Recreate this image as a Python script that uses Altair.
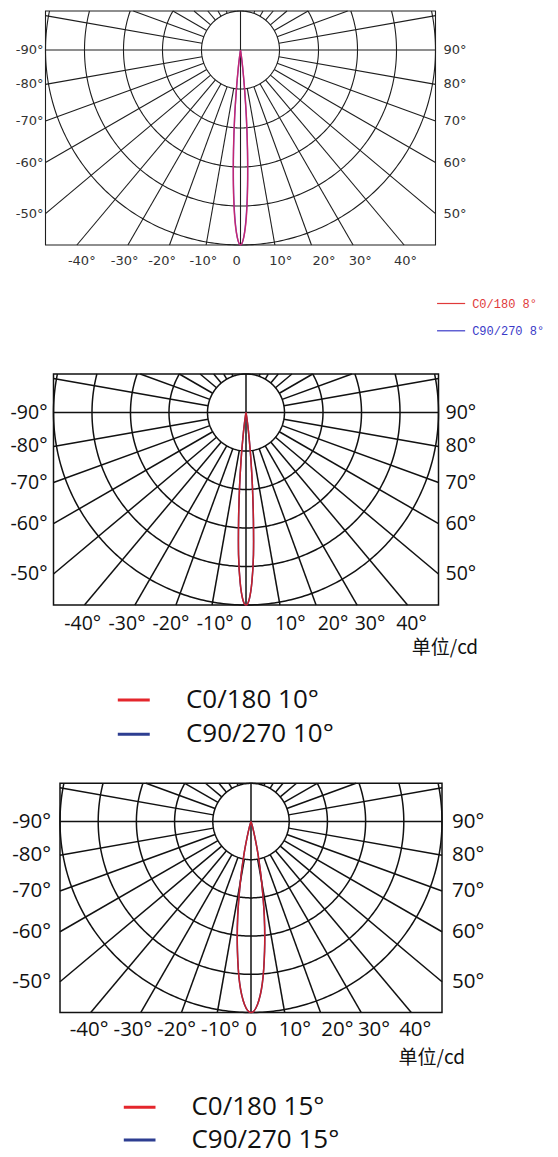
import numpy as np
import pandas as pd
import altair as alt

# ---------------- values ----------------
left_angles = [-90, -80, -70, -60, -50]
right_angles = [90, 80, 70, 60, 50]
bottom_angles = [-40, -30, -20, -10, 0, 10, 20, 30, 40]
# where the bottom tick labels sit (in ring units from the centre)
bottom_pos_small = [-4.07, -2.97, -2.01, -0.95, -0.10, 1.03, 2.14, 3.07, 4.23]
bottom_pos_large = [-4.24, -3.09, -1.95, -0.80, 0.0, 1.15, 2.26, 3.22, 4.30]

# relative intensity vs angle from the beam axis (deg)
beam8_theta = [0, 1, 2, 3, 4, 5, 6, 7, 8, 9]
beam8_c0 = [1.0, 0.96, 0.86, 0.70, 0.52, 0.35, 0.20, 0.10, 0.04, 0.0]
beam8_c90 = [1.0, 0.96, 0.85, 0.69, 0.51, 0.34, 0.19, 0.09, 0.03, 0.0]

beam10_theta = [0, 1, 2, 3, 4, 5, 6, 7, 8, 9, 10]
beam10_c0 = [1.0, 0.97, 0.88, 0.74, 0.55, 0.38, 0.24, 0.13, 0.06, 0.02, 0.0]
beam10_c90 = [1.0, 0.97, 0.88, 0.74, 0.55, 0.38, 0.24, 0.13, 0.06, 0.02, 0.0]

beam15_theta = [0, 2, 4, 6, 8, 10, 12, 14, 16, 18]
beam15_c0 = [1.0, 0.96, 0.85, 0.68, 0.50, 0.32, 0.18, 0.08, 0.03, 0.0]
beam15_c90 = [1.0, 0.96, 0.85, 0.68, 0.50, 0.32, 0.18, 0.08, 0.03, 0.0]

legend8 = ["C0/180 8°", "C90/270 8°"]
legend10 = ["C0/180 10°", "C90/270 10°"]
legend15 = ["C0/180 15°", "C90/270 15°"]
unit_label = "单位/cd"

RINGS = 5      # rings drawn below the centre
TOP = 1.0      # box extends one ring above the centre
SPOKE_STEP = 10

# ---------------- geometry helpers ----------------
def grid_df():
    rows = []
    g = 0
    for r in range(1, RINGS + 1):
        if r <= TOP:
            phis = np.linspace(0, 360, 181)
        else:
            pm = np.degrees(np.arccos(-TOP / r))
            phis = np.linspace(-pm, pm, 241)
        for i, p in enumerate(phis):
            rows.append(dict(g=g, i=i, x=r * np.sin(np.radians(p)), y=-r * np.cos(np.radians(p))))
        g += 1
    for (a, b) in [((-RINGS, 0), (RINGS, 0)), ((0, -RINGS), (0, TOP))]:
        rows.append(dict(g=g, i=0, x=a[0], y=a[1]))
        rows.append(dict(g=g, i=1, x=b[0], y=b[1]))
        g += 1
    for a in range(SPOKE_STEP, 180, SPOKE_STEP):
        if a == 90:
            continue
        for s in (-1, 1):
            ph = np.radians(a)
            dx, dy = s * np.sin(ph), -np.cos(ph)
            tx = RINGS / abs(dx)
            ty = RINGS / (-dy) if dy < 0 else TOP / dy
            t = min(tx, ty)
            rows.append(dict(g=g, i=0, x=dx, y=dy))
            rows.append(dict(g=g, i=1, x=dx * t, y=dy * t))
            g += 1
    return pd.DataFrame(rows)


def beam_df(theta, inten):
    th = np.array(theta, float)
    I = np.array(inten, float)
    th_full = np.concatenate([-th[::-1], th[1:]])
    I_full = np.concatenate([I[::-1], I[1:]])
    r = RINGS * I_full
    return pd.DataFrame(dict(i=np.arange(len(r)),
                             x=r * np.sin(np.radians(th_full)),
                             y=-r * np.cos(np.radians(th_full))))


def side_y(a):
    a = abs(a)
    return -RINGS * np.cos(np.radians(a)) / np.sin(np.radians(a))


GRID = grid_df()
PAGE_L, PAGE_R = 8, 550
W = PAGE_R - PAGE_L


def panel(p):
    u, cx, cy, top, h = p["u"], p["cx"], p["cy"], p["top"], p["h"]
    xs = alt.Scale(domain=[(PAGE_L - cx) / u, (PAGE_R - cx) / u], nice=False, zero=False)
    ys = alt.Scale(domain=[(cy - top - h) / u, (cy - top) / u], nice=False, zero=False)

    def X(f="x"):
        return alt.X(f, type="quantitative", scale=xs, axis=None)

    def Y(f="y"):
        return alt.Y(f, type="quantitative", scale=ys, axis=None)

    layers = []
    layers.append(alt.Chart(GRID).mark_line(color=p["grid"], strokeWidth=p["gw"]).encode(
        x=X(), y=Y(), detail="g:N", order="i:Q"))
    box = pd.DataFrame(dict(x=[-RINGS], x2=[RINGS], y=[-RINGS], y2=[TOP]))
    layers.append(alt.Chart(box).mark_rect(fillOpacity=0, stroke=p["grid"], strokeWidth=p["gw"]).encode(
        x=X(), x2="x2", y=Y(), y2="y2"))
    layers.append(alt.Chart(beam_df(p["theta"], p["c90"])).mark_line(
        color=p["blue"], strokeWidth=p["cw"], interpolate="cardinal").encode(x=X(), y=Y(), order="i:Q"))
    layers.append(alt.Chart(beam_df(p["theta"], p["c0"])).mark_line(
        color=p["red"], strokeWidth=p["cw"], opacity=p["ropa"], interpolate="cardinal").encode(
        x=X(), y=Y(), order="i:Q"))

    tstyle = dict(font=p["font"], fontSize=p["fs"], color=p["tc"], fontWeight=p["fw"])
    ldf = pd.DataFrame(dict(x=[-RINGS] * 5, y=[side_y(a) for a in left_angles],
                            t=[f"{a}°" for a in left_angles]))
    layers.append(alt.Chart(ldf).mark_text(align="right", baseline="middle", dx=p["ldx"], **tstyle).encode(
        x=X(), y=Y(), text="t:N"))
    rdf = pd.DataFrame(dict(x=[RINGS] * 5, y=[side_y(a) for a in right_angles],
                            t=[f"{a}°" for a in right_angles]))
    layers.append(alt.Chart(rdf).mark_text(align="left", baseline="middle", dx=p["rdx"], **tstyle).encode(
        x=X(), y=Y(), text="t:N"))
    bdf = pd.DataFrame(dict(x=p["bpos"], y=[-RINGS] * len(bottom_angles),
                            t=[("0" if a == 0 else f"{a}°") for a in bottom_angles]))
    layers.append(alt.Chart(bdf).mark_text(align="center", baseline="middle", dy=p["bdy"], **tstyle).encode(
        x=X(), y=Y(), text="t:N"))

    if p.get("unit") is not None:
        udf = pd.DataFrame(dict(x=[p["unit"][0]], y=[p["unit"][1]], t=[unit_label]))
        layers.append(alt.Chart(udf).mark_text(align="right", baseline="middle", font="Noto Sans CJK SC",
                                               fontSize=p["ufs"], color=p["tc"]).encode(
            x=X(), y=Y(), text="t:N"))

    lg = p["leg"]
    legl = pd.DataFrame(dict(x=[lg["x0"]] * 2, x2=[lg["x1"]] * 2, y=lg["ys"], c=[p["lred"], p["lblue"]]))
    layers.append(alt.Chart(legl).mark_rule(strokeWidth=lg["lw"]).encode(
        x=X(), x2="x2", y=Y(), color=alt.Color("c:N", scale=None)))
    legt = pd.DataFrame(dict(x=[lg["xt"]] * 2, y=lg["ys"], t=p["labels"], c=lg["tcols"]))
    layers.append(alt.Chart(legt).mark_text(align="left", baseline="middle", font=lg["font"],
                                            fontSize=lg["fs"], fontWeight=lg["fw"]).encode(
        x=X(), y=Y(), text="t:N", color=alt.Color("c:N", scale=None)))

    return alt.layer(*layers).properties(width=W, height=h)


P1 = dict(u=39.0, cx=240.5, cy=47.0, top=8, h=337, grid="#1e1e1e", gw=1.1,
          theta=beam8_theta, c0=beam8_c0, c90=beam8_c90, red="#e0205a", blue="#5a3cc8", cw=1.4, ropa=0.8,
          font="DejaVu Sans", fs=13, tc="#333333", fw="normal", ldx=-2, rdx=8, bdy=16, bpos=bottom_pos_small,
          unit=None, labels=legend8, lred="#e03a3a", lblue="#3a3ac8",
          leg=dict(x0=5.04, x1=5.76, xt=5.94, ys=[-6.5, -7.2], lw=1.2, font="Liberation Mono", fs=12,
                   fw="normal", tcols=["#e03a3a", "#3a3ac8"]))
P2 = dict(u=38.5, cx=246.0, cy=409.5, top=345, h=420, grid="#111111", gw=1.5,
          theta=beam10_theta, c0=beam10_c0, c90=beam10_c90, red="#c8202a", blue="#2d3e91", cw=1.5, ropa=1.0,
          font="Open Sans", fs=19.5, tc="#111111", fw=500, ldx=-6, rdx=7, bdy=19, bpos=bottom_pos_large,
          unit=(6.03, -6.12), ufs=19, labels=legend10, lred="#e4262c", lblue="#2d3e91",
          leg=dict(x0=-3.33, x1=-2.5, xt=-1.56, ys=[-7.47, -8.36], lw=3, font="Open Sans", fs=26,
                   fw=500, tcols=["#111111", "#111111"]))
P3 = dict(u=38.2, cx=251.0, cy=818.5, top=765, h=392, grid="#111111", gw=1.5,
          theta=beam15_theta, c0=beam15_c0, c90=beam15_c90, red="#c8202a", blue="#2d3e91", cw=1.5, ropa=1.0,
          font="Open Sans", fs=20.5, tc="#111111", fw=500, ldx=-9, rdx=10, bdy=17.5, bpos=bottom_pos_large,
          unit=(5.6, -6.2), ufs=19, labels=legend15, lred="#e4262c", lblue="#2d3e91",
          leg=dict(x0=-3.33, x1=-2.5, xt=-1.56, ys=[-7.48, -8.34], lw=3, font="Open Sans", fs=26,
                   fw=500, tcols=["#111111", "#111111"]))

chart = alt.vconcat(panel(P1), panel(P2), panel(P3), spacing=0).resolve_scale(
    x="independent", y="independent").properties(padding=0).configure_view(strokeWidth=0)

chart.save("out.html", embed_options={"renderer": "svg", "actions": False})
